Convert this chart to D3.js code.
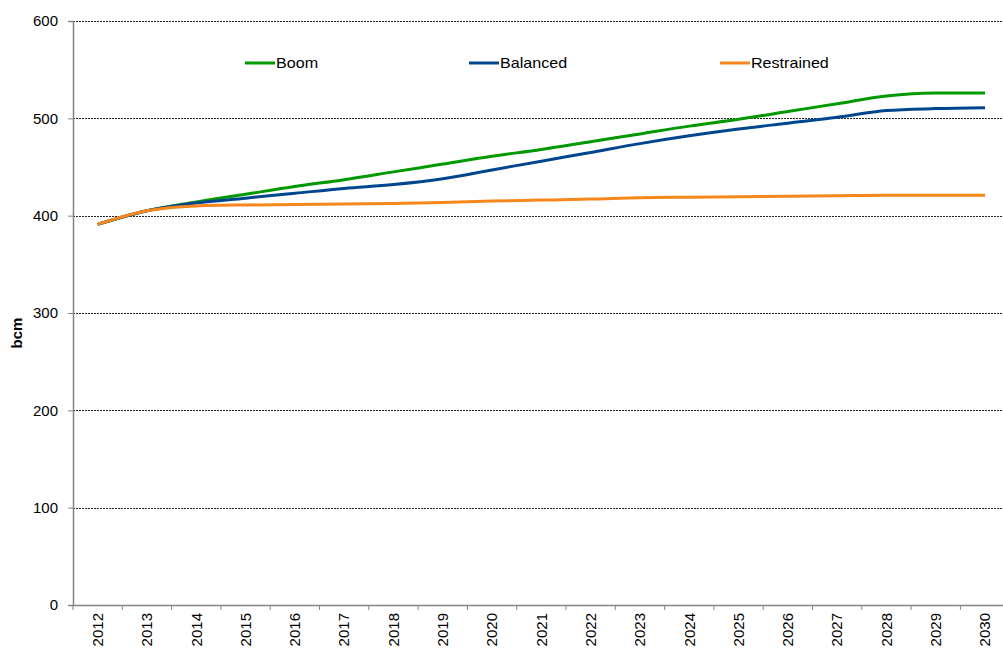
<!DOCTYPE html>
<html>
<head>
<meta charset="utf-8">
<script src="https://cdn.jsdelivr.net/npm/d3@7"></script>
<style>
  html, body { margin: 0; padding: 0; background: #fff; }
  svg { display: block; font-family: Arial, "Liberation Sans", sans-serif; }
</style>
</head>
<body>
<svg id="chart" width="1003" height="653"></svg>
<script>
const years = ["2012","2013","2014","2015","2016","2017","2018","2019","2020","2021","2022","2023","2024","2025","2026","2027","2028","2029","2030"];
const boom       = [391, 405, 414, 422, 430, 437, 445, 453, 461, 468, 476, 484, 492, 499, 507, 515, 523, 526, 526];
const balanced   = [391, 405, 413, 418, 423, 428, 432, 438, 447, 456, 465, 474, 482, 489, 495, 501, 508, 510, 511];
const restrained = [391, 405, 410, 411, 411.5, 412, 412.5, 413.5, 415, 416, 417, 418.5, 419, 419.5, 420, 420.5, 421, 421, 421];
const seriesNames = ["Boom", "Balanced", "Restrained"];
const seriesColors = ["#009a00", "#00468f", "#f7861c"];
const yTicks = [0, 100, 200, 300, 400, 500, 600];
const yLabel = "bcm";

(function () {
const series = [boom, balanced, restrained];
const svg = d3.select("#chart");

const left = 73, bandW = 49.3, plotTop = 21, plotBottom = 605;
const x = d3.scaleBand().domain(years).range([left, left + bandW * years.length]).padding(0);
const y = d3.scaleLinear().domain([0, 600]).range([plotBottom, plotTop]);

// gridlines
svg.append("g").selectAll("line").data(yTicks.filter(d => d > 0)).join("line")
  .attr("x1", left).attr("x2", 1003)
  .attr("y1", d => Math.round(y(d)) + 0.5).attr("y2", d => Math.round(y(d)) + 0.5)
  .attr("stroke", "#222").attr("stroke-width", 1).attr("stroke-dasharray", "2,1");

// y axis
const yAxis = d3.axisLeft(y).tickValues(yTicks).tickSize(5).tickPadding(10);
const gy = svg.append("g").attr("transform", `translate(${left},0)`).call(yAxis);
gy.select(".domain").attr("stroke", "#858585").attr("stroke-width", 1.5);
gy.selectAll(".tick line").attr("stroke", "#858585");
gy.selectAll(".tick text").attr("font-size", 15).attr("fill", "#000")
  .attr("font-family", "Arial, 'Liberation Sans', sans-serif");

// x axis
const xAxis = d3.axisBottom(x).tickSize(0).tickFormat("");
const gx = svg.append("g").attr("transform", `translate(0,${plotBottom})`).call(xAxis);
gx.select(".domain").attr("stroke", "#858585").attr("stroke-width", 1.5);
const bounds = years.map(d => x(d)).concat([x(years[years.length-1]) + x.bandwidth()]);
svg.append("g").selectAll("line").data(bounds).join("line")
  .attr("x1", d => d).attr("x2", d => d)
  .attr("y1", plotBottom).attr("y2", plotBottom + 5)
  .attr("stroke", "#858585").attr("stroke-width", 1);
svg.append("g").selectAll("text").data(years).join("text")
  .attr("transform", d => `translate(${x(d) + x.bandwidth()/2},${plotBottom + 8}) rotate(-90)`)
  .attr("text-anchor", "end").attr("dy", "0.35em")
  .attr("font-size", 15).attr("fill", "#000")
  .text(d => d);

// y label
svg.append("text")
  .attr("transform", `translate(17,${(plotTop + plotBottom)/2 + 20}) rotate(-90)`)
  .attr("text-anchor", "middle").attr("dy", "0.35em")
  .attr("font-size", 15).attr("font-weight", "bold").attr("fill", "#000")
  .text(yLabel);

// lines
const line = d3.line()
  .x((d, i) => x(years[i]) + x.bandwidth()/2)
  .y(d => y(d))
  .curve(d3.curveMonotoneX);
[0, 1, 2].forEach(k => {
  svg.append("path").datum(series[k])
    .attr("d", line)
    .attr("fill", "none")
    .attr("stroke", seriesColors[k])
    .attr("stroke-width", 3)
    .attr("stroke-linejoin", "round");
});

// legend
const legendX = [245, 469, 720];
const legendY = 63;
const lg = svg.append("g");
seriesNames.forEach((n, k) => {
  lg.append("line")
    .attr("x1", legendX[k]).attr("x2", legendX[k] + 30)
    .attr("y1", legendY).attr("y2", legendY)
    .attr("stroke", seriesColors[k]).attr("stroke-width", 3);
  lg.append("text")
    .attr("transform", `translate(${legendX[k] + 31},${legendY}) scale(1.15,1)`)
    .attr("dy", "0.35em")
    .attr("font-size", 14).attr("fill", "#000")
    .text(n);
});
})();
</script>
</body>
</html>
